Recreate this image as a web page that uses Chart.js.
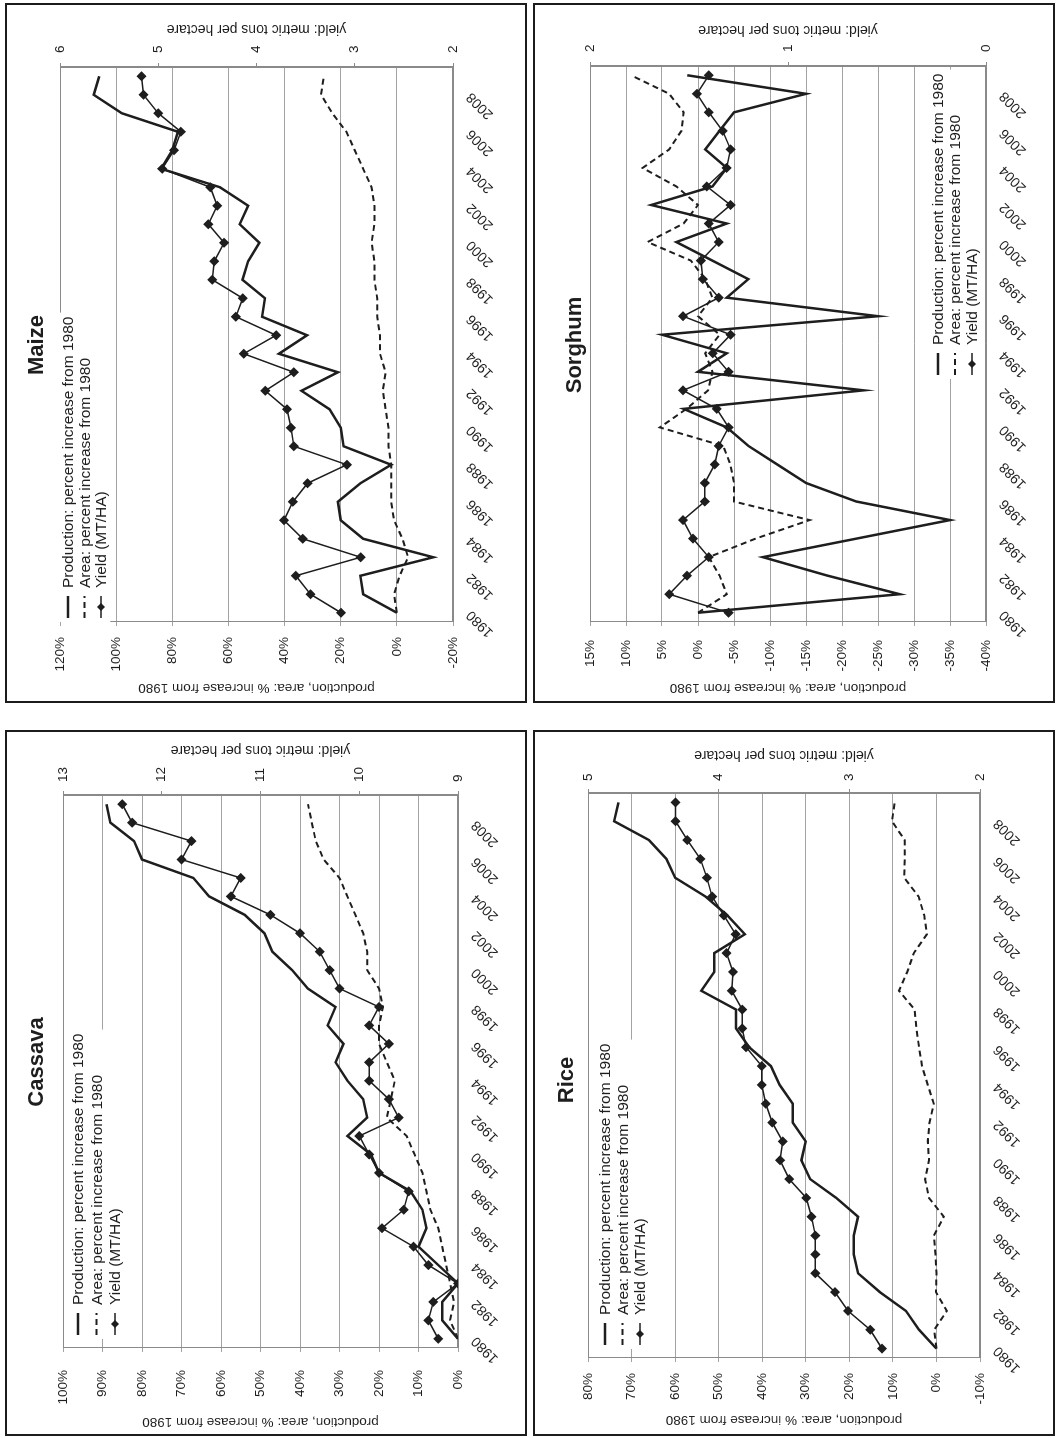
<!DOCTYPE html>
<html>
<head>
<meta charset="utf-8">
<title>Crop production, area and yield since 1980</title>
<script src="https://cdn.jsdelivr.net/npm/chart.js@4.4.0/dist/chart.umd.min.js"></script>
<style>
  html, body { margin: 0; padding: 0; background: #fff; }
  body { width: 1057px; height: 1438px; position: relative; overflow: hidden; }
  .panel { position: absolute; border: 2px solid #1c1c1c; background: #fff; overflow: hidden; }
  .rot { position: absolute; left: 0; top: 0; transform-origin: 0 0; }
  .rot canvas { display: block; }
</style>
</head>
<body>
<script>
// Years on the category axis, and the ones that get a label
const years = [1980, 1981, 1982, 1983, 1984, 1985, 1986, 1987, 1988, 1989,
               1990, 1991, 1992, 1993, 1994, 1995, 1996, 1997, 1998, 1999,
               2000, 2001, 2002, 2003, 2004, 2005, 2006, 2007, 2008, 2009];
const yearTicks = [1980, 1982, 1984, 1986, 1988, 1990, 1992, 1994, 1996, 1998,
                   2000, 2002, 2004, 2006, 2008];

// Maize
const maizeProduction = [0, 12, 13, -13, 12, 20, 21, 13, 2, 19, 20, 24, 34, 21, 42, 32, 48, 47, 55, 53, 49, 56, 53, 63, 84, 80, 78, 98, 108, 106];
const maizeArea = [0, 1, -1, -4, -2, 1, 2, 2, 2, 3, 3, 4, 5, 4, 6, 6, 7, 7, 8, 8, 9, 8, 8, 9, 12, 15, 18, 23, 27, 26];
const maizeYield = [3.14, 3.45, 3.60, 2.94, 3.53, 3.72, 3.63, 3.48, 3.08, 3.62, 3.65, 3.69, 3.91, 3.62, 4.13, 3.80, 4.21, 4.14, 4.45, 4.43, 4.33, 4.49, 4.40, 4.47, 4.96, 4.84, 4.77, 5.00, 5.15, 5.17];

// Sorghum
const sorghumProduction = [0, -28, -18, -9, -22, -35, -22, -15, -11, -7, -4, 2, -23, 0, -4, 5, -25, -4, -7, -2, 3, -4, 6.5, -2, -4, -1, -3, -5, -15, 1.5];
const sorghumArea = [0, -4, -3, -1.5, -8, -15.5, -5, -5, -4.5, -3.5, 5.3, 1.6, -1.4, -2, -1, -3, 0, -2, -1, 1, 7, 2, 0, 3, 7.7, 4, 2.3, 2, 4, 9.3];
const sorghumYield = [1.30, 1.60, 1.51, 1.40, 1.48, 1.53, 1.42, 1.42, 1.37, 1.35, 1.30, 1.36, 1.53, 1.30, 1.38, 1.29, 1.53, 1.35, 1.43, 1.44, 1.35, 1.40, 1.29, 1.41, 1.31, 1.29, 1.33, 1.40, 1.46, 1.40];

// Cassava
const cassavaProduction = [0, 4, 4, 0, 5, 10, 8, 9, 12, 20, 22, 28, 23, 24, 28, 31, 29, 33, 31, 38, 42, 47, 49, 54, 63, 67, 80, 82, 88, 89];
const cassavaArea = [0, 2, 1, 2, 3, 4, 5, 7, 8, 9, 11, 13, 18, 17, 16, 18, 20, 20, 19, 20, 23, 23, 24, 26, 28, 30, 34, 36, 37, 38];
const cassavaYield = [9.2, 9.3, 9.25, 9.0, 9.3, 9.45, 9.77, 9.55, 9.5, 9.8, 9.9, 10.0, 9.6, 9.7, 9.9, 9.9, 9.7, 9.9, 9.8, 10.2, 10.3, 10.4, 10.6, 10.9, 11.3, 11.2, 11.8, 11.7, 12.3, 12.4];

// Rice
const riceProduction = [0, 4, 7, 13, 18, 19, 19, 18, 23, 29, 31, 30, 33, 33, 36, 38, 43, 46, 46, 54, 51, 51, 44, 48, 53, 60, 62, 66, 74, 73];
const riceArea = [0, 0.5, -2.4, 0.1, 0, 0.2, 0.6, -1.7, 1.7, 2.6, 1.7, 2, 1.6, 0.6, 2, 3.3, 4, 4.6, 5, 8.6, 6.7, 5.2, 2.2, 2.8, 4.1, 7.4, 7.3, 7.3, 10.2, 9.6];
const riceYield = [2.75, 2.84, 3.01, 3.11, 3.26, 3.26, 3.26, 3.29, 3.33, 3.46, 3.53, 3.51, 3.59, 3.64, 3.67, 3.67, 3.79, 3.82, 3.82, 3.90, 3.89, 3.94, 3.87, 3.96, 4.05, 4.09, 4.14, 4.24, 4.33, 4.33];

const seriesNames = ['Production: percent increase from 1980', 'Area: percent increase from 1980', 'Yield (MT/HA)'];
const pctAxisTitle = 'production, area: % increase from 1980';
const yieldAxisTitle = 'yield: metric tons per hectare';

const ink = '#1e1e1e';
const gridGray = '#a3a3a3';
const axisGray = '#8a8a8a';
const FONT = '"Liberation Sans", Arial, sans-serif';
Chart.defaults.font.family = FONT;
Chart.defaults.color = ink;

// Each chart is laid out upright and then turned a quarter turn counter-clockwise.
// Inside a chart: u runs along the years, v runs across the values.
const panels = [
  { title: 'Maize', box: { left: 5, top: 3, w: 518, h: 696 },
    series: [maizeProduction, maizeArea, maizeYield],
    pct: { min: -20, max: 120, step: 20 }, yld: { min: 2, max: 6, step: 1 },
    area: { left: 79, right: 62, top: 53, bottom: 72 },
    pctGap: 15, yldGap: 14, pctTitlePad: 5, yldTitleU: 672,
    titleAt: [356, 30], legendAt: [83, 61], legendRow: 16.5 },
  { title: 'Sorghum', box: { left: 533, top: 3, w: 518, h: 696 },
    series: [sorghumProduction, sorghumArea, sorghumYield],
    pct: { min: -40, max: 15, step: 5 }, yld: { min: 0, max: 2, step: 1 },
    area: { left: 79, right: 61, top: 55, bottom: 67 },
    pctGap: 18, yldGap: 14, pctTitlePad: 5, yldTitleU: 671,
    titleAt: [356, 40], legendAt: [326, 403], legendRow: 17 },
  { title: 'Cassava', box: { left: 5, top: 730, w: 518, h: 702 },
    series: [cassavaProduction, cassavaArea, cassavaYield],
    pct: { min: 0, max: 100, step: 10 }, yld: { min: 9, max: 13, step: 1 },
    area: { left: 86, right: 63, top: 56, bottom: 67 },
    pctGap: 22, yldGap: 13, pctTitlePad: 4, yldTitleU: 684,
    titleAt: [372, 30], legendAt: [99, 71], legendRow: 18.5 },
  { title: 'Rice', box: { left: 533, top: 730, w: 518, h: 702 },
    series: [riceProduction, riceArea, riceYield],
    pct: { min: -10, max: 80, step: 10 }, yld: { min: 2, max: 5, step: 1 },
    area: { left: 76, right: 61, top: 53, bottom: 73 },
    pctGap: 15, yldGap: 12, pctTitlePad: 6, yldTitleU: 679,
    titleAt: [354, 32], legendAt: [89, 70], legendRow: 17.5 }
];

function drawDiamond(ctx, x, y, r) {
  ctx.beginPath();
  ctx.moveTo(x, y - r);
  ctx.lineTo(x + r, y);
  ctx.lineTo(x, y + r);
  ctx.lineTo(x - r, y);
  ctx.closePath();
  ctx.fill();
}

function drawLegend(chart, opts) {
  const ctx = chart.ctx;
  const [u0, v0] = opts.legendAt;
  const row = opts.legendRow;
  const sample = 22;
  ctx.save();
  ctx.font = '15.5px ' + FONT;
  const textW = Math.max(...seriesNames.map(t => ctx.measureText(t).width));
  ctx.fillStyle = '#fff';
  ctx.fillRect(u0 - 4, v0 - row / 2 - 1, sample + 8 + textW + 8, row * 3 + 2);
  chart.data.datasets.forEach((ds, i) => {
    const v = v0 + i * row;
    ctx.strokeStyle = ink;
    ctx.lineWidth = ds.borderWidth;
    ctx.setLineDash(ds.borderDash || []);
    ctx.beginPath();
    ctx.moveTo(u0, v);
    ctx.lineTo(u0 + sample, v);
    ctx.stroke();
    ctx.setLineDash([]);
    ctx.fillStyle = ink;
    if (ds.pointRadius) drawDiamond(ctx, u0 + sample / 2, v, 4);
    ctx.textAlign = 'left';
    ctx.textBaseline = 'middle';
    ctx.fillText(seriesNames[i], u0 + sample + 8, v + 1);
  });
  ctx.restore();
}

// Plot border, chart title, yield axis title and the in-plot legend
const decor = {
  id: 'decor',
  beforeDatasetsDraw(chart) {
    const a = chart.chartArea, ctx = chart.ctx;
    ctx.save();
    ctx.strokeStyle = axisGray;
    ctx.lineWidth = 1;
    ctx.strokeRect(Math.round(a.left) + 0.5, Math.round(a.top) + 0.5,
                   Math.round(a.right - a.left) - 1, Math.round(a.bottom - a.top) - 1);
    ctx.restore();
  },
  afterDraw(chart, args, opts) {
    const ctx = chart.ctx, a = chart.chartArea;
    ctx.save();
    ctx.fillStyle = ink;
    ctx.textAlign = 'center';
    ctx.textBaseline = 'middle';
    ctx.font = 'bold 22px ' + FONT;
    ctx.fillText(opts.title, opts.titleAt[0], opts.titleAt[1]);
    // same turn as the percent axis title
    ctx.font = '14px ' + FONT;
    ctx.translate(opts.yldTitleU, (a.top + a.bottom) / 2);
    ctx.rotate(-Math.PI / 2);
    ctx.fillText(yieldAxisTitle, 0, 0);
    ctx.restore();
    drawLegend(chart, opts);
  }
};

function buildPanel(p) {
  const panel = document.createElement('div');
  panel.className = 'panel';
  panel.style.left = p.box.left + 'px';
  panel.style.top = p.box.top + 'px';
  panel.style.width = p.box.w + 'px';
  panel.style.height = p.box.h + 'px';

  const W = p.box.h, H = p.box.w;
  const rot = document.createElement('div');
  rot.className = 'rot';
  rot.style.width = W + 'px';
  rot.style.height = H + 'px';
  rot.style.transform = 'translate(0px, ' + W + 'px) rotate(-90deg)';

  const canvas = document.createElement('canvas');
  canvas.width = W;
  canvas.height = H;
  rot.appendChild(canvas);
  panel.appendChild(rot);
  document.body.appendChild(panel);

  new Chart(canvas, {
    type: 'line',
    data: {
      labels: years,
      datasets: [
        { label: seriesNames[0], data: p.series[0], yAxisID: 'y', borderColor: ink,
          borderWidth: 2.5, pointRadius: 0, tension: 0 },
        { label: seriesNames[1], data: p.series[1], yAxisID: 'y', borderColor: ink,
          borderWidth: 2, borderDash: [6, 4], pointRadius: 0, tension: 0 },
        { label: seriesNames[2], data: p.series[2], yAxisID: 'y1', borderColor: ink,
          borderWidth: 1.5, pointStyle: 'rectRot', pointRadius: 4,
          pointBackgroundColor: ink, pointBorderColor: ink, tension: 0 }
      ]
    },
    options: {
      responsive: false,
      animation: false,
      devicePixelRatio: 1,
      layout: { padding: { top: p.area.top, left: 0, right: 0, bottom: 0 } },
      plugins: {
        legend: { display: false },
        tooltip: { enabled: false },
        decor: p
      },
      scales: {
        x: {
          offset: true,
          grid: { display: false },
          border: { color: axisGray },
          ticks: {
            autoSkip: false, maxRotation: 45, minRotation: 45, padding: 2,
            font: { size: 14 }, color: ink,
            callback: (v, i) => yearTicks.includes(years[i]) ? String(years[i]) : ''
          },
          afterFit: s => { s.height = p.area.bottom; }
        },
        y: {
          min: p.pct.min, max: p.pct.max,
          ticks: { stepSize: p.pct.step, padding: p.pctGap - 4, font: { size: 13.5 }, color: ink,
                   callback: v => v + '%' },
          grid: { color: gridGray, tickLength: 4 },
          border: { color: axisGray },
          title: { display: true, text: pctAxisTitle, font: { size: 13.5 }, color: ink,
                   padding: { top: p.pctTitlePad, bottom: 0 } },
          afterFit: s => { s.width = p.area.left; }
        },
        y1: {
          position: 'right',
          min: p.yld.min, max: p.yld.max,
          ticks: { stepSize: p.yld.step, padding: p.yldGap - 4, font: { size: 13.5 }, color: ink },
          grid: { drawOnChartArea: false, tickLength: 4, color: axisGray },
          border: { color: axisGray },
          afterFit: s => { s.width = p.area.right; }
        }
      }
    },
    plugins: [decor]
  });
}

panels.forEach(buildPanel);
</script>
</body>
</html>
